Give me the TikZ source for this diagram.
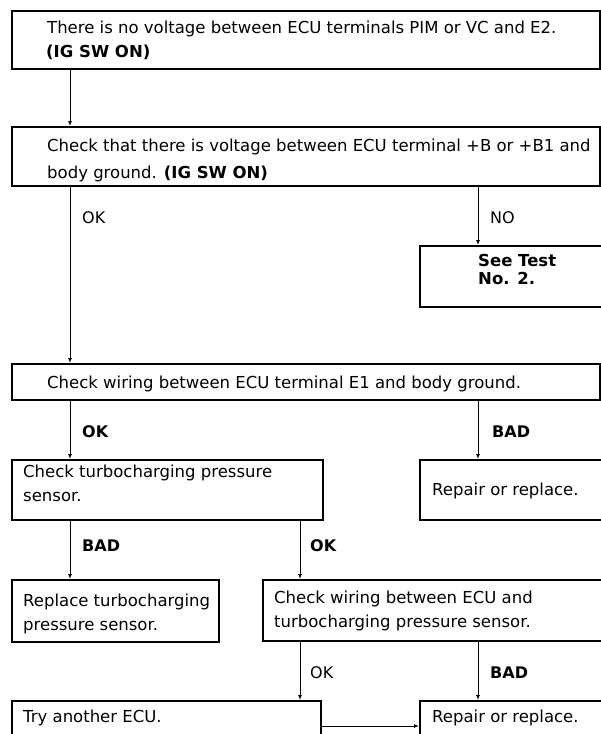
\documentclass[tikz,border=0pt]{standalone}
\usepackage{fontspec}
\setmainfont{DejaVu Sans}
\usetikzlibrary{arrows.meta}
\begin{document}
\begin{tikzpicture}[x=1pt,y=-1pt,
  box/.style={draw,line width=1.5pt,inner sep=0pt,anchor=north west},
  txt/.style={inner sep=0pt,anchor=base west,align=left,font=\fontsize{16.5}{24}\selectfont},
  lbl/.style={inner sep=0pt,anchor=base west,font=\fontsize{16}{19}\selectfont},
  flow/.style={line width=1pt,-{Latex[length=5pt,width=4pt]}}]
\useasboundingbox (0,0) rectangle (601,734);
\fill[white] (0,0) rectangle (601,734);
\clip (0,0) rectangle (601,734);

% columns of the vertical connectors
\coordinate (cL) at (70,0);
\coordinate (cM) at (300,0);
\coordinate (cR) at (478,0);

% boxes
\node[box,minimum width=588pt,minimum height=58pt] (b1) at (11,10) {};
\node[box,minimum width=588pt,minimum height=59pt] (b2) at (11,126) {};
\node[box,minimum width=200pt,minimum height=61pt] (see) at (419,245) {};
\node[box,minimum width=588pt,minimum height=36pt] (b3) at (11,363) {};
\node[box,minimum width=311pt,minimum height=60pt] (turbo) at (11,459) {};
\node[box,minimum width=200pt,minimum height=60pt] (rep1) at (419,459) {};
\node[box,minimum width=207pt,minimum height=62pt] (repl) at (11,579) {};
\node[box,minimum width=350pt,minimum height=61pt] (wire) at (262,579) {};
\node[box,minimum width=309pt,minimum height=60pt] (ecu) at (11,700) {};
\node[box,minimum width=200pt,minimum height=60pt] (rep2) at (419,700) {};

% box texts (multi-line nodes are placed by the baseline of their last line)
\node[txt] (t1) at (47,33) {There is no voltage between ECU terminals PIM or VC and E2.};
\node[txt] (t1b) at (46,57) {\bfseries (IG SW ON)};
\node[txt] (t2) at (47,178) {Check that there is voltage between ECU terminal +B or +B1 and\\[3pt]body ground. \textbf{(IG SW ON)}};
\node[txt] (t3) at (478,284) {\bfseries See Test\\[-6pt]\bfseries No. 2.};
\node[txt] (t4) at (47,388) {Check wiring between ECU terminal E1 and body ground.};
\node[txt] (t5) at (23,501) {Check turbocharging pressure\\sensor.};
\node[txt] (t6) at (432,495) {Repair or replace.};
\node[txt] (t7) at (23,630) {Replace turbocharging\\pressure sensor.};
\node[txt] (t8) at (274,627) {Check wiring between ECU and\\turbocharging pressure sensor.};
\node[txt] (t9) at (23,722) {Try another ECU.};
\node[txt] (t10) at (432,722) {Repair or replace.};

% connectors
\draw[flow] (b1.south -| cL) -- (b2.north -| cL);
\draw[flow] (b2.south -| cL) -- (b3.north -| cL);
\draw[flow] (b2.south -| cR) -- (see.north -| cR);
\draw[flow] (b3.south -| cL) -- (turbo.north -| cL);
\draw[flow] (b3.south -| cR) -- (rep1.north -| cR);
\draw[flow] (turbo.south -| cL) -- (repl.north -| cL);
\draw[flow] (turbo.south -| cM) -- (wire.north -| cM);
\draw[flow] (wire.south -| cM) -- (ecu.north -| cM);
\draw[flow] (wire.south -| cR) -- (rep2.north -| cR);
\coordinate (hy) at (0,726);
\draw[flow] (ecu.east |- hy) -- (rep2.west |- hy);

% branch labels
\node[lbl] (l1) at (82,223) {OK};
\node[lbl] (l2) at (490,223) {NO};
\node[lbl] (l3) at (82,437) {\bfseries OK};
\node[lbl] (l4) at (492,437) {\bfseries BAD};
\node[lbl] (l5) at (82,551) {\bfseries BAD};
\node[lbl] (l6) at (310,551) {\bfseries OK};
\node[lbl] (l7) at (310,678) {OK};
\node[lbl] (l8) at (490,678) {\bfseries BAD};
\end{tikzpicture}
\end{document}
